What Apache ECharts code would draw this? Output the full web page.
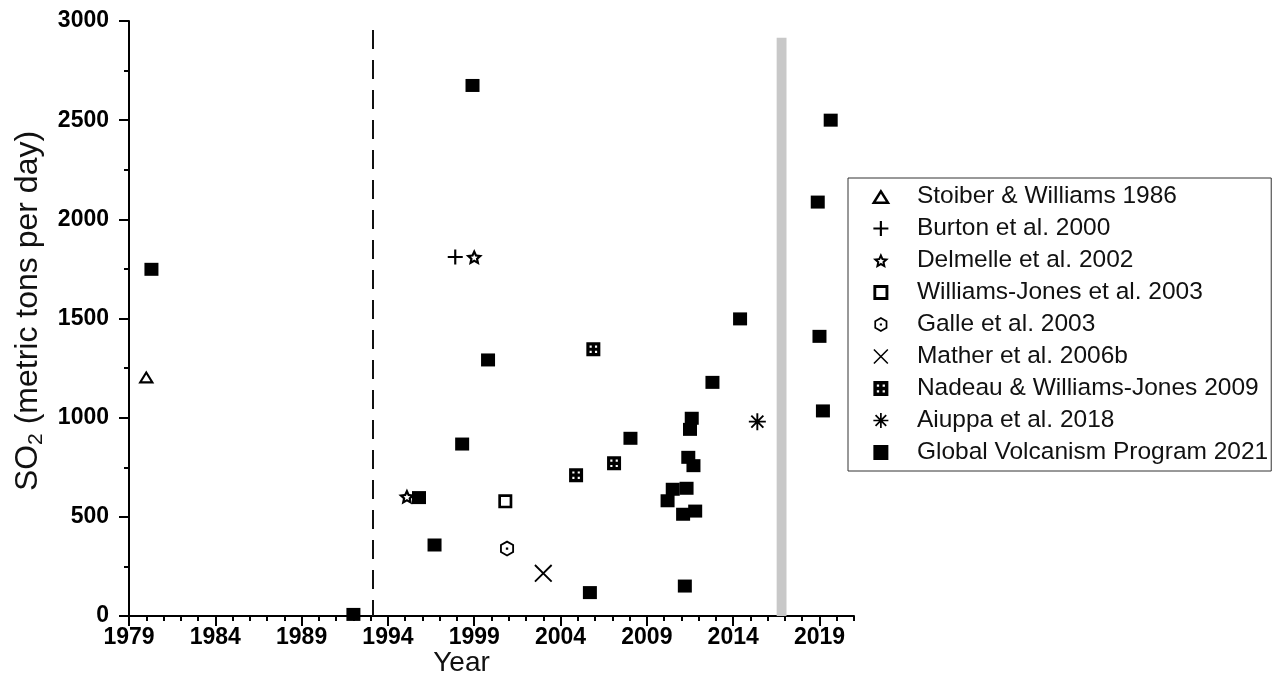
<!DOCTYPE html>
<html>
<head>
<meta charset="utf-8">
<title>SO2 emissions by year</title>
<script src="https://cdn.jsdelivr.net/npm/echarts@6/dist/echarts.min.js"></script>
<style>
  html, body { margin: 0; padding: 0; background: #fff; }
  #chart { width: 1276px; height: 700px; }
</style>
</head>
<body>
<div id="chart"></div>
<script>
// ---- data: [year, SO2 flux (t/d)] per source ----
const seriesNames = [
  'Stoiber & Williams 1986',
  'Burton et al. 2000',
  'Delmelle et al. 2002',
  'Williams-Jones et al. 2003',
  'Galle et al. 2003',
  'Mather et al. 2006b',
  'Nadeau & Williams-Jones 2009',
  'Aiuppa et al. 2018',
  'Global Volcanism Program 2021'
];

const stoiberYears = [1980.0];
const stoiberValues = [1205];

const burtonYears = [1997.9];
const burtonValues = [1810];

const delmelleYears = [1999.0, 1995.1];
const delmelleValues = [1810, 602];

const williamsJonesYears = [2000.8];
const williamsJonesValues = [578];

const galleYears = [2000.9];
const galleValues = [340];

const matherYears = [2003.0];
const matherValues = [215];

const nadeauYears = [2005.9, 2007.1, 2004.9];
const nadeauValues = [1345, 770, 710];

const aiuppaYears = [2015.4];
const aiuppaValues = [980];

const gvpYears = [1980.3, 1992.0, 1995.8, 1996.7, 1998.3, 1998.9, 1999.8, 2005.7,
  2008.05, 2010.2, 2010.5, 2011.1, 2011.2, 2011.3, 2011.4, 2011.5, 2011.6, 2011.7,
  2011.8, 2012.8, 2014.4, 2018.9, 2019.0, 2019.2, 2019.65];
const gvpValues = [1748, 8, 597, 358, 867, 2675, 1291, 118,
  896, 581, 639, 513, 151, 644, 800, 941, 997, 758,
  529, 1178, 1498, 2087, 1410, 1034, 2500];

// axis ticks
const xTickLabels = [1979, 1984, 1989, 1994, 1999, 2004, 2009, 2014, 2019];
const xMin = 1979, xMax = 2021;
const yMin = 0, yMax = 3000, yStep = 500;

// reference lines
const dashedLineYear = 1993.1;
const dashedLineTop = 2955;
const grayBandYears = [2016.52, 2017.09];
const grayBandTop = 2915;

// ---- marker shapes (filled paths; holes wound the other way) ----
const SYM = {
  openTriangle: 'path://M0,12 L7.5,0 L15,12 Z M3.6,10 L11.4,10 L7.5,3.76 Z',
  plus: 'path://M0,6 L6,6 L6,0 L8,0 L8,6 L14,6 L14,8 L8,8 L8,14 L6,14 L6,8 L0,8 Z',
  openStar: 'path://M7,0 L8.94,4.33 L13.66,4.84 L10.14,8.02 L11.11,12.66 L7,10.3 L2.89,12.66 L3.86,8.02 L0.34,4.84 L5.06,4.33 Z ' +
            'M7,4.2 L6.22,5.93 L4.34,6.14 L5.74,7.41 L5.36,9.26 L7,8.32 L8.64,9.26 L8.26,7.41 L9.66,6.14 L7.78,5.93 Z',
  openSquare: 'path://M0,0 L13,0 L13,13 L0,13 Z M2.5,2.5 L2.5,10.5 L10.5,10.5 L10.5,2.5 Z',
  dotHexagon: 'path://M6.5,0 L13,3.75 L13,11.25 L6.5,15 L0,11.25 L0,3.75 Z ' +
              'M6.5,1.95 L1.7,4.72 L1.7,10.28 L6.5,13.05 L11.3,10.28 L11.3,4.72 Z ' +
              'M5.4,6.4 L7.6,6.4 L7.6,8.6 L5.4,8.6 Z',
  cross: 'path://M1.3,0 L18,16.7 L16.7,18 L0,1.3 Z M16.7,0 L18,1.3 L1.3,18 L0,16.7 Z',
  gridSquare: 'path://M0,0 L13,0 L13,13 L0,13 Z M3,3 L3,5 L5,5 L5,3 Z M8,3 L8,5 L10,5 L10,3 Z ' +
              'M3,8 L3,10 L5,10 L5,8 Z M8,8 L8,10 L10,10 L10,8 Z',
  asterisk: 'path://M7.1,0 L8.9,0 L8.9,16 L7.1,16 Z M0,7.1 L16,7.1 L16,8.9 L0,8.9 Z ' +
            'M2.98,1.7 L14.3,13.02 L13.02,14.3 L1.7,2.98 Z M13.02,1.7 L14.3,2.98 L2.98,14.3 L1.7,13.02 Z',
  square: 'path://M0,0 L13,0 L13,13 L0,13 Z'
};

const FONT = "'Liberation Sans', Arial, sans-serif";

function pairs(xs, ys) {
  return xs.map((x, i) => [x, ys[i]]);
}

function scatter(name, xs, ys, symbol, size, extra) {
  return Object.assign({
    name: name,
    type: 'scatter',
    xAxisIndex: 0,
    yAxisIndex: 0,
    symbol: symbol,
    symbolSize: size,
    itemStyle: { color: '#000', opacity: 1 },
    emphasis: { disabled: true },
    data: pairs(xs, ys),
    z: 5
  }, extra || {});
}

const chart = echarts.init(document.getElementById('chart'), null, { renderer: 'canvas' });

const option = {
  animation: false,
  backgroundColor: '#fff',
  textStyle: { fontFamily: FONT },
  grid: { left: 129, right: 422, top: 21, bottom: 84, containLabel: false },
  legend: {
    orient: 'vertical',
    left: 848,
    top: 178,
    itemWidth: 62,
    itemHeight: 15,
    itemGap: 7,
    padding: [6, 3, 6, 23.5],
    borderColor: '#333',
    borderWidth: 1,
    selectedMode: false,
    textStyle: { fontFamily: FONT, fontSize: 24.5, lineHeight: 24, color: '#111' },
    data: seriesNames
  },
  xAxis: [
    {
      // minor (yearly) ticks and the axis line
      type: 'value',
      min: xMin,
      max: xMax,
      interval: 1,
      name: 'Year',
      nameLocation: 'middle',
      nameGap: 33,
      nameTextStyle: { fontFamily: FONT, fontSize: 28, color: '#111', padding: [0, 60, 0, 0] },
      axisLine: { onZero: false, lineStyle: { color: '#000', width: 2 } },
      axisTick: { show: true, length: 5, lineStyle: { color: '#000', width: 2 } },
      axisLabel: { show: false },
      splitLine: { show: false }
    },
    {
      // major ticks with year labels every five years
      type: 'value',
      min: xMin,
      max: xMax,
      position: 'bottom',
      axisLine: { show: false },
      axisTick: { show: true, customValues: xTickLabels, length: 10, lineStyle: { color: '#000', width: 2 } },
      axisLabel: {
        customValues: xTickLabels,
        formatter: v => String(v),
        margin: 10,
        fontFamily: FONT,
        fontSize: 23,
        fontWeight: 'bold',
        color: '#000'
      },
      splitLine: { show: false }
    }
  ],
  yAxis: {
    type: 'value',
    min: yMin,
    max: yMax,
    interval: yStep,
    name: '{t|SO}{s|2}{t| (metric tons per day)}',
    nameLocation: 'middle',
    nameRotate: 90,
    nameGap: 63,
    nameTextStyle: {
      padding: [0, 0, 0, 15],
      rich: {
        t: { fontFamily: FONT, fontSize: 32, color: '#111', lineHeight: 38 },
        s: { fontFamily: FONT, fontSize: 21, color: '#111', lineHeight: 18, verticalAlign: 'bottom' }
      }
    },
    axisLine: { show: true, lineStyle: { color: '#000', width: 2 } },
    axisTick: { show: true, length: 10, lineStyle: { color: '#000', width: 2 } },
    minorTick: { show: true, splitNumber: 2, length: 5, lineStyle: { color: '#000', width: 2 } },
    axisLabel: {
      formatter: v => String(v),
      margin: 20,
      fontFamily: FONT,
      fontSize: 23,
      fontWeight: 'bold',
      color: '#000'
    },
    splitLine: { show: false }
  },
  series: [
    scatter(seriesNames[0], stoiberYears, stoiberValues, SYM.openTriangle, [16, 13]),
    scatter(seriesNames[1], burtonYears, burtonValues, SYM.plus, [15, 15]),
    scatter(seriesNames[2], delmelleYears, delmelleValues, SYM.openStar, [17, 16]),
    scatter(seriesNames[3], williamsJonesYears, williamsJonesValues, SYM.openSquare, [14, 14]),
    scatter(seriesNames[4], galleYears, galleValues, SYM.dotHexagon, [14, 16]),
    scatter(seriesNames[5], matherYears, matherValues, SYM.cross, [18, 18]),
    scatter(seriesNames[6], nadeauYears, nadeauValues, SYM.gridSquare, [14, 14]),
    scatter(seriesNames[7], aiuppaYears, aiuppaValues, SYM.asterisk, [17, 17]),
    scatter(seriesNames[8], gvpYears, gvpValues, SYM.square, [14, 13], {
      markArea: {
        silent: true,
        z: 1,
        itemStyle: { color: '#c8c8c8', opacity: 1 },
        label: { show: false },
        data: [[{ xAxis: grayBandYears[0], yAxis: 0 }, { xAxis: grayBandYears[1], yAxis: grayBandTop }]]
      },
      markLine: {
        silent: true,
        symbol: ['none', 'none'],
        label: { show: false },
        lineStyle: { color: '#111', width: 2, type: [19, 11] },
        data: [[{ coord: [dashedLineYear, dashedLineTop] }, { coord: [dashedLineYear, 0] }]]
      }
    })
  ]
};

chart.setOption(option);
</script>
</body>
</html>
